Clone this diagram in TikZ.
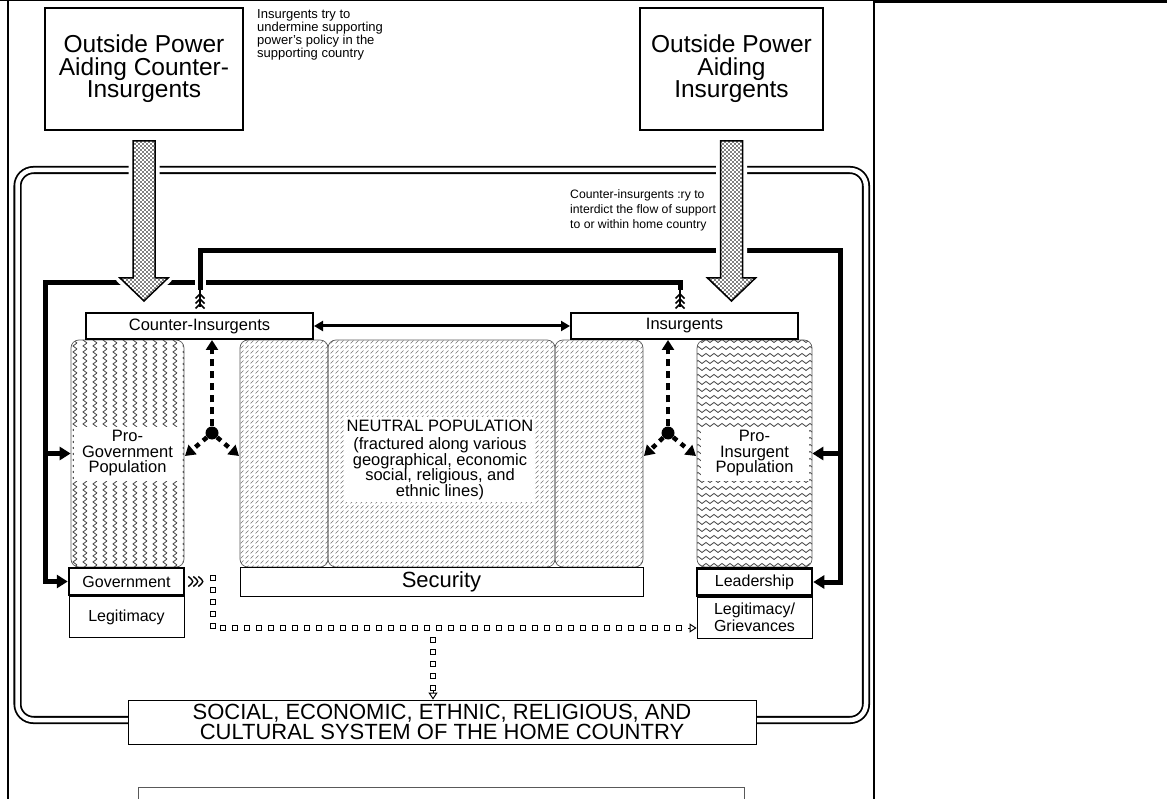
\documentclass[tikz,border=0pt]{standalone}
\usepackage{fontspec}
\setmainfont{Liberation Sans}
\usetikzlibrary{arrows.meta,positioning,patterns,decorations.markings}
% fill patterns of the three populations and of the aid arrows
\pgfdeclarepatternformonly{zigzag}{\pgfpoint{-1pt}{-1pt}}{\pgfpoint{11pt}{7pt}}{\pgfpoint{10pt}{6pt}}{%
  \pgfsetlinewidth{0.8pt}%
  \pgfpathmoveto{\pgfpoint{7pt}{0pt}}%
  \pgfpathlineto{\pgfpoint{3pt}{3pt}}%
  \pgfpathlineto{\pgfpoint{7pt}{6pt}}%
  \pgfusepath{stroke}}
\pgfdeclarepatternformonly{waves}{\pgfpoint{-1pt}{-1pt}}{\pgfpoint{9pt}{8pt}}{\pgfpoint{8pt}{7pt}}{%
  \pgfsetlinewidth{0.8pt}%
  \pgfpathmoveto{\pgfpoint{0pt}{3pt}}%
  \pgfpathcurveto{\pgfpoint{1.3pt}{5pt}}{\pgfpoint{2.7pt}{5pt}}{\pgfpoint{4pt}{3pt}}%
  \pgfpathcurveto{\pgfpoint{5.3pt}{1pt}}{\pgfpoint{6.7pt}{1pt}}{\pgfpoint{8pt}{3pt}}%
  \pgfusepath{stroke}}
\pgfdeclarepatternformonly{slashes}{\pgfpoint{-1pt}{-1pt}}{\pgfpoint{6pt}{6pt}}{\pgfpoint{5pt}{5pt}}{%
  \pgfsetlinewidth{0.6pt}%
  \pgfpathmoveto{\pgfpoint{0.5pt}{0.5pt}}%
  \pgfpathlineto{\pgfpoint{3.5pt}{3.5pt}}%
  \pgfusepath{stroke}}
\pgfdeclarepatternformonly{stipple}{\pgfpoint{-1pt}{-1pt}}{\pgfpoint{5pt}{5pt}}{\pgfpoint{4pt}{4pt}}{%
  \pgfpathcircle{\pgfpoint{1pt}{1pt}}{0.85pt}%
  \pgfpathcircle{\pgfpoint{3pt}{3pt}}{0.85pt}%
  \pgfusepath{fill}}
\tikzset{
  >={Triangle[length=11pt,width=13pt]},
  power/.style={draw,line width=2pt,minimum height=122pt,minimum width=#1,inner sep=0pt,
    align=center,font=\fontsize{24.5}{22.5}\selectfont},
  power/.default=198pt,
  note/.style={inner sep=0pt,align=left,font=\fontsize{13}{12}\selectfont},
  side/.style={draw,line width=2pt,minimum width=227pt,minimum height=26pt,inner sep=0pt,
    font=\fontsize{16.5}{15}\selectfont},
  pop/.style={draw=black!65,line width=0.7pt,rounded corners=8pt,pattern=#1,pattern color=black!75,
    inner sep=0pt,minimum height=227pt},
  neutral/.style={pop=slashes,pattern color=black!55},
  poptext/.style={fill=white,inner sep=0pt,align=center,font=\fontsize{16.5}{15.5}\selectfont},
  head/.style={draw,line width=2.5pt,minimum width=115pt,minimum height=27pt,inner sep=0pt,
    font=\fontsize{16}{16}\selectfont},
  base/.style={draw,thick,fill=white,minimum width=115pt,minimum height=41pt,inner sep=0pt,
    align=center,font=\fontsize{16}{17}\selectfont},
  plain/.style={draw,thick,fill=white,inner sep=0pt,align=center},
  feed/.style={line width=5pt,->},
  hint/.style={line width=4.5pt,dash pattern=on 7pt off 5pt,-{Triangle[length=10pt,width=12pt]}},
  dot/.style={circle,fill,inner sep=0pt,minimum size=13pt},
  sqdots/.style={decorate,decoration={markings,mark=between positions 0 and 1 step 12pt with
    {\node[draw,line width=0.9pt,fill=white,inner sep=0pt,minimum size=4.5pt] {};}}},
  hollow/.style={line width=1pt,-{Triangle[open,length=7pt,width=9pt]}},
  frame/.style={draw,line width=1.8pt,double=white,double distance=4.5pt,rounded corners=16pt},
  % pictograms
  pics/aid/.style={code={
    \filldraw[white,line width=9pt,line join=round] (-11,10) -- (-11,147) -- (-24,147) -- (0,170)
      -- (24,147) -- (11,147) -- (11,10) -- cycle;
    \draw[line width=1.5pt,pattern=stipple] (-11,10) -- (-11,147) -- (-24,147) -- (0,170)
      -- (24,147) -- (11,147) -- (11,10) -- cycle;
  }},
  pics/fletch/.style={code={
    \draw[line width=1.6pt] (0,0) -- (0,-17);
    \foreach \y in {-3,-8,-13} \draw[line width=1.6pt] (-4.5,\y+4.5) -- (0,\y) -- (4.5,\y+4.5);
  }},
  pics/govtail/.style={code={
    \foreach \x in {3,8,13} \draw[line width=1.4pt] (\x,-5) .. controls (\x+6,0) .. (\x,5);
  }},
}
\begin{document}
\begin{tikzpicture}[x=1pt,y=-1pt]
  \useasboundingbox (0,0) rectangle (1167,799);
  % page rules
  \draw[line width=1.2pt] (0,0.6) -- (874,0.6);
  \draw[line width=3pt] (874,1.5) -- (1167,1.5);
  \draw[line width=1.5pt] (8,0) -- (8,799);
  \draw[line width=1.5pt] (874,0) -- (874,799);
  % home country
  \draw[frame] (17.5,170) rectangle (866,720);

  \node[power] (opc) at (144,69) {Outside Power\\Aiding Counter-\\Insurgents};
  \node[power=183pt] (opi) at (731.5,69) {Outside Power\\Aiding\\Insurgents};
  \node[note,anchor=north west] (nti) at (257,9) {Insurgents try to\\undermine supporting\\power's policy in the\\supporting country};
  \node[note,anchor=north west,font=\fontsize{12.2}{15}\selectfont] (ntc) at (570,189) {Counter-insurgents :ry to\\interdict the flow of support\\to or within home country};

  % populations
  \node[pop=zigzag,minimum width=113pt] (pg) at (127.5,453.5) {};
  \node[neutral,minimum width=88pt] (nl) at (284,453.5) {};
  \node[neutral,minimum width=227pt] (nm) at (441.5,453.5) {};
  \node[neutral,minimum width=88pt] (nr) at (599,453.5) {};
  \node[pop=waves,minimum width=115pt] (pi) at (754.5,453.5) {};
  \node[poptext,minimum width=108pt,minimum height=54pt] (pgt) at (pg.center) {Pro-\\Government\\Population};
  \node[poptext,minimum width=108pt,minimum height=54pt] (pit) at (pi.center) {Pro-\\Insurgent\\Population};
  \node[poptext,minimum width=190pt,minimum height=85pt] (ntx) at (440,459.5) {NEUTRAL POPULATION\\[3pt](fractured along various\\geographical, economic\\social, religious, and\\ethnic lines)};

  % actors
  \node[side] (ci) at (199.5,326) {Counter-Insurgents};
  \node[side] (ins) at (684.5,326) {Insurgents};
  \node[head] (gov) at (126.5,581.5) {Government};
  \node[base,below=0pt of gov] (leg) {Legitimacy};
  \node[plain,minimum width=403pt,minimum height=29pt,font=\fontsize{22}{22}\selectfont] (sec) at (441.5,581.5) {Security};
  \node[head] (lead) at (754.5,582) {Leadership};
  \node[base,below=0pt of lead] (lg) {Legitimacy/\\Grievances};
  \node[plain,minimum width=628pt,minimum height=44pt,font=\fontsize{22}{20}\selectfont] (soc) at (442,722) {SOCIAL, ECONOMIC, ETHNIC, RELIGIOUS, AND\\CULTURAL SYSTEM OF THE HOME COUNTRY};
  \draw[gray!70!black,thick] (138,799) |- (744,787) -- (744,799);

  % feedback loops
  \coordinate (ia) at (680,290);
  \coordinate (ca) at (200,290);
  \draw[feed] (ia) |- (45,283) |- (gov.west);
  \draw[feed] (45,453.5) -- (pg.west);
  \draw[white,line width=11pt] (200,276) -- (200,290);
  \draw[feed] (ca) |- (840,251) |- (lead.east);
  \draw[feed] (840,453.5) -- (pi.east);
  \pic at (680,307) {fletch};
  \pic at (200,307) {fletch};

  % outside aid
  \pic at (opc.south) {aid};
  \pic at (opi.south) {aid};

  \draw[line width=3pt,{Triangle[length=9pt,width=10pt]}-{Triangle[length=9pt,width=10pt]}] (ci) -- (ins);

  % support of the populations
  \node[dot] (dc) at (212,433) {};
  \node[dot] (di) at (668,433) {};
  \coordinate (dcl) at (185,456);
  \coordinate (dcr) at (239,456);
  \coordinate (dil) at (644,456);
  \coordinate (dir) at (696,456);
  \draw[hint] (dc) -- (dc |- ci.south);
  \draw[hint] (di) -- (di |- ins.south);
  \foreach \e in {dcl,dcr} \draw[hint,dash pattern=on 5pt off 5pt] (dc) -- (\e);
  \foreach \e in {dil,dir} \draw[hint,dash pattern=on 5pt off 5pt] (di) -- (\e);

  % legitimacy
  \pic at (gov.east) {govtail};
  \coordinate (lt) at (688,628);
  \coordinate (st) at (433,690);
  \path[sqdots] (213,578) |- (lt);
  \path[sqdots] (433,640) -- (st);
  \draw[hollow] (lt) -- (lt -| lg.west);
  \draw[hollow] (st) -- (st |- soc.north);
\end{tikzpicture}
\end{document}
